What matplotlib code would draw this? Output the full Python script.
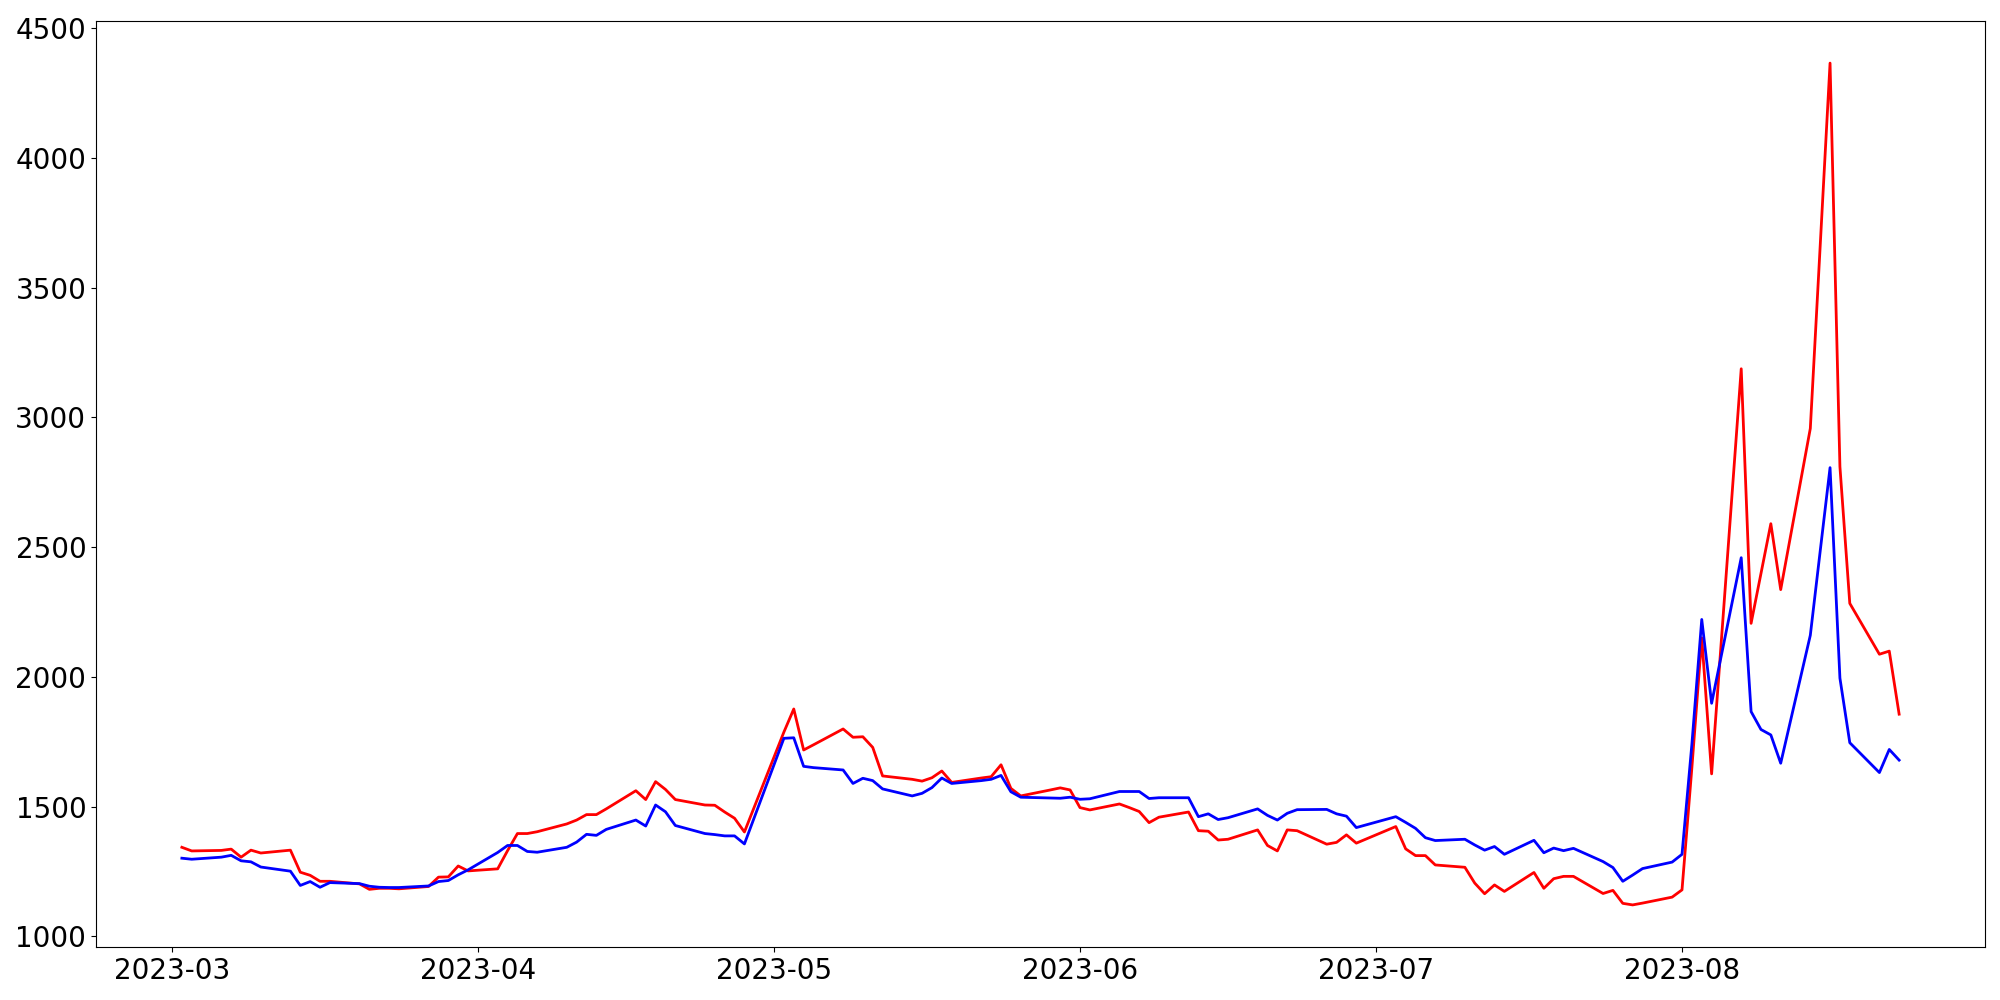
import matplotlib
matplotlib.use('Agg')
import matplotlib.pyplot as plt
import pandas as pd

# trading days shown in the chart (weekdays, minus the days with no data)
start_day = '2023-03-02'
end_day = '2023-08-23'
missing_days = ['2023-05-01', '2023-06-30']

red_mar = [1343, 1329, 1331, 1336, 1305, 1332, 1321, 1332, 1247, 1235, 1212,
           1212, 1202, 1181, 1185, 1185, 1183, 1192, 1228, 1229, 1271, 1252]
red_apr = [1260, 1330, 1396, 1396, 1403, 1433, 1448, 1469, 1469, 1491, 1561,
           1527, 1596, 1566, 1527, 1506, 1505, 1479, 1455, 1402]
red_may = [1787, 1876, 1718, 1738, 1799, 1767, 1769, 1728, 1618, 1605, 1598,
           1611, 1637, 1593, 1610, 1615, 1661, 1570, 1541, 1564, 1572, 1564]
red_jun = [1496, 1487, 1510, 1496, 1481, 1438, 1459, 1479, 1407, 1405, 1371,
           1374, 1410, 1350, 1329, 1410, 1407, 1355, 1362, 1391, 1359]
red_jul = [1423, 1337, 1311, 1311, 1275, 1266, 1205, 1164, 1198, 1173, 1246,
           1185, 1222, 1231, 1231, 1165, 1177, 1127, 1121, 1128, 1151]
red_aug = [1179, 1650, 2150, 1626, 3187, 2206, 2398, 2590, 2336, 2957, 3660,
           4365, 2810, 2283, 2087, 2099, 1856]

blue_mar = [1301, 1297, 1305, 1312, 1291, 1287, 1267, 1251, 1196, 1211, 1189,
            1207, 1203, 1193, 1189, 1188, 1188, 1194, 1211, 1215, 1237, 1256]
blue_apr = [1323, 1350, 1350, 1327, 1324, 1343, 1363, 1393, 1389, 1412, 1448,
            1425, 1506, 1480, 1427, 1396, 1392, 1387, 1387, 1356]
blue_may = [1763, 1765, 1655, 1650, 1641, 1589, 1609, 1600, 1568, 1541, 1551,
            1573, 1610, 1589, 1600, 1605, 1620, 1557, 1536, 1533, 1532, 1536]
blue_jun = [1528, 1530, 1558, 1558, 1558, 1531, 1534, 1534, 1461, 1472, 1450,
            1457, 1491, 1466, 1448, 1474, 1488, 1489, 1472, 1463, 1419]
blue_jul = [1461, 1439, 1416, 1380, 1369, 1374, 1352, 1332, 1346, 1316, 1370,
            1322, 1340, 1330, 1339, 1288, 1265, 1212, 1236, 1261, 1286]
blue_aug = [1316, 1740, 2221, 1898, 2459, 1866, 1797, 1776, 1667, 2160, 2484,
            2806, 1995, 1746, 1631, 1720, 1679]

dates = pd.bdate_range(start_day, end_day)
dates = dates[~dates.isin(pd.to_datetime(missing_days))]

red = red_mar + red_apr + red_may + red_jun + red_jul + red_aug
blue = blue_mar + blue_apr + blue_may + blue_jun + blue_jul + blue_aug

fig, ax = plt.subplots(figsize=(20, 10), dpi=100)
ax.plot(dates, red, color='red', linewidth=2)
ax.plot(dates, blue, color='blue', linewidth=2)

ax.tick_params(axis='both', labelsize=20)

plt.subplots_adjust(left=0.048, right=0.9925, bottom=0.053, top=0.979)
plt.savefig('out.png')
